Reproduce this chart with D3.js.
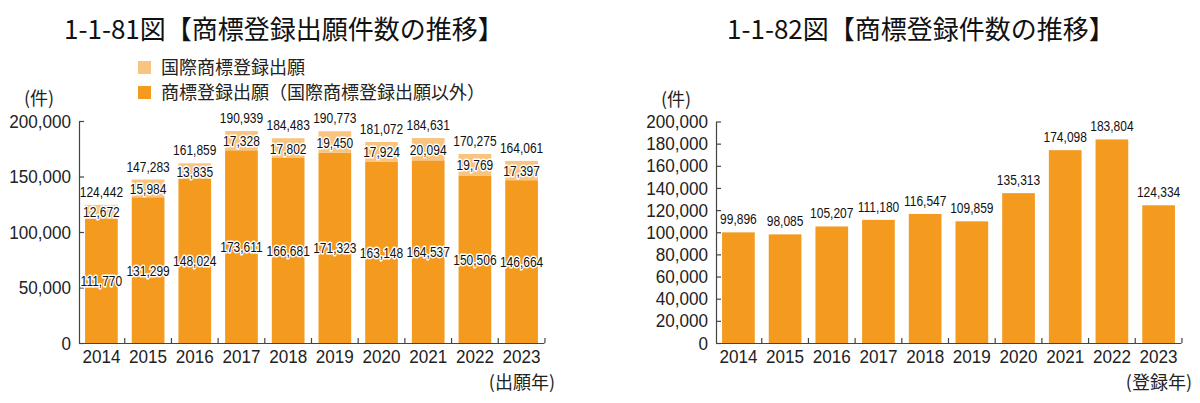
<!DOCTYPE html>
<html>
<head>
<meta charset="utf-8">
<script src="https://cdn.jsdelivr.net/npm/d3@7"></script>
<style>
  body { margin: 0; background: #fff; }
  svg { display: block; }
  .num { font-family: 'Liberation Sans', Arial, sans-serif; }
  .jp { font-family: 'Noto Sans CJK JP', sans-serif; }
</style>
</head>
<body>
<div id="chart"></div>
<script>
const years = ['2014', '2015', '2016', '2017', '2018', '2019', '2020', '2021', '2022', '2023']

// 1-1-81: applications
const domestic = [111770, 131299, 148024, 173611, 166681, 171323, 163148, 164537, 150506, 146664]
const international = [12672, 15984, 13835, 17328, 17802, 19450, 17924, 20094, 19769, 17397]
const applTotal = [124442, 147283, 161859, 190939, 184483, 190773, 181072, 184631, 170275, 164061]

// 1-1-82: registrations
const registrations = [99896, 98085, 105207, 111180, 116547, 109859, 135313, 174098, 183804, 124334]

const leftTicks = [0, 50000, 100000, 150000, 200000]
const rightTicks = d3.range(0, 200001, 20000)

const dark = '#f39a1f'
const light = '#f8c47f'
const fmt = d3.format(',')

const width = 1200
const height = 403

// the source uses a condensed face, squeeze a normal one instead
const axisSqueeze = 0.9
const labelSqueeze = 0.8

const svg = d3.select('#chart')
  .append('svg')
  .attr('width', width)
  .attr('height', height)

function drawAxes(x, y, ticks, yearText) {
  const [x0, x1] = x.range()

  svg.append('g')
    .attr('transform', `translate(${x0},0)`)
    .call(d3.axisLeft(y).tickValues(ticks).tickFormat(fmt).tickSizeInner(-5).tickSizeOuter(0).tickPadding(9))
    .call(g => g.selectAll('path, line').attr('stroke', '#444').attr('stroke-width', 1.2))
    .call(g => g.selectAll('text')
      .attr('class', 'num')
      .attr('font-size', 19)
      .attr('fill', '#222')
      .attr('transform', `scale(${axisSqueeze},1)`))

  svg.append('g')
    .attr('transform', `translate(0,${y(0)})`)
    .call(d3.axisBottom(x).tickSize(0).tickPadding(7))
    .call(g => g.select('.domain').attr('stroke', '#444').attr('stroke-width', 1.2))
    .call(g => g.selectAll('text')
      .attr('class', 'num')
      .attr('font-size', 19)
      .attr('fill', '#222')
      .attr('transform', `scale(${axisSqueeze},1)`))

  // small upward ticks between categories
  const gap = x.step() - x.bandwidth()
  svg.append('g')
    .selectAll('line')
    .data(years)
    .join('line')
    .attr('x1', d => x(d) + x.bandwidth() + gap * x.align())
    .attr('x2', d => x(d) + x.bandwidth() + gap * x.align())
    .attr('y1', y(0))
    .attr('y2', y(0) - 5)
    .attr('stroke', '#444')
    .attr('stroke-width', 1.2)

  svg.append('text')
    .attr('class', 'jp')
    .attr('x', x0 - 40)
    .attr('y', y(200000) - 16)
    .attr('text-anchor', 'middle')
    .attr('font-size', 18)
    .attr('fill', '#222')
    .text('(件)')

  svg.append('text')
    .attr('class', 'jp')
    .attr('x', x1 + 11)
    .attr('y', y(0) + 46)
    .attr('text-anchor', 'end')
    .attr('font-size', 18)
    .attr('fill', '#222')
    .text(yearText)
}

function title(xPos, txt) {
  svg.append('text')
    .attr('class', 'jp')
    .attr('x', xPos)
    .attr('y', 39)
    .attr('font-size', 26)
    .attr('fill', '#111')
    .text(txt)
}

// value label, squeezed around its own anchor point
function valueLabel(sel, px, py, halo) {
  sel.attr('class', 'num')
    .attr('transform', (d, i) => `translate(${px(d, i)},${py(d, i)}) scale(${labelSqueeze},1)`)
    .attr('text-anchor', 'middle')
    .attr('font-size', 15)
    .attr('fill', '#111')
  if (halo) {
    sel.attr('stroke', '#fff')
      .attr('stroke-width', 3)
      .attr('stroke-linejoin', 'round')
      .attr('paint-order', 'stroke')
  }
}

// ---- left chart ----
const xL = d3.scaleBand().domain(years).range([79, 544]).paddingInner(0.3).paddingOuter(0.13)
const yL = d3.scaleLinear().domain([0, 200000]).range([343, 121])

title(64, '1-1-81図【商標登録出願件数の推移】')

const legendItems = [
  { label: '国際商標登録出願', color: light },
  { label: '商標登録出願（国際商標登録出願以外）', color: dark }
]
const legend = svg.append('g')
  .selectAll('g')
  .data(legendItems)
  .join('g')
  .attr('transform', (d, i) => `translate(138,${61 + i * 25})`)
legend.append('rect')
  .attr('width', 13)
  .attr('height', 13)
  .attr('fill', d => d.color)
legend.append('text')
  .attr('class', 'jp')
  .attr('x', 23)
  .attr('y', 13)
  .attr('font-size', 18)
  .attr('fill', '#222')
  .text(d => d.label)

const table = years.map((yr, i) => ({ year: yr, domestic: domestic[i], international: international[i], total: applTotal[i] }))
const stack = d3.stack().keys(['domestic', 'international'])(table)
const stackColor = { domestic: dark, international: light }

drawAxes(xL, yL, leftTicks, '(出願年)')

svg.append('g')
  .selectAll('g')
  .data(stack)
  .join('g')
  .attr('fill', s => stackColor[s.key])
  .selectAll('rect')
  .data(s => s)
  .join('rect')
  .attr('x', d => xL(d.data.year))
  .attr('width', xL.bandwidth())
  .attr('y', d => yL(d[1]))
  .attr('height', d => yL(d[0]) - yL(d[1]))

// segment labels with white halo
svg.append('g')
  .selectAll('g')
  .data(stack)
  .join('g')
  .selectAll('text')
  .data(s => s.map(d => ({ d, key: s.key })))
  .join('text')
  .call(valueLabel,
    o => xL(o.d.data.year) + xL.bandwidth() / 2,
    o => (yL(o.d[0]) + yL(o.d[1])) / 2 + 5.5,
    true)
  .text(o => fmt(o.d.data[o.key]))

svg.append('g')
  .selectAll('text')
  .data(table)
  .join('text')
  .call(valueLabel,
    d => xL(d.year) + xL.bandwidth() / 2,
    d => yL(d.total) - 8,
    false)
  .text(d => fmt(d.total))

// ---- right chart ----
const xR = d3.scaleBand().domain(years).range([716, 1181]).paddingInner(0.3).paddingOuter(0.13)
const yR = d3.scaleLinear().domain([0, 200000]).range([343, 121.5])

title(727, '1-1-82図【商標登録件数の推移】')

drawAxes(xR, yR, rightTicks, '(登録年)')

svg.append('g')
  .selectAll('rect')
  .data(registrations)
  .join('rect')
  .attr('x', (d, i) => xR(years[i]))
  .attr('width', xR.bandwidth())
  .attr('y', d => yR(d))
  .attr('height', d => yR(0) - yR(d))
  .attr('fill', dark)

svg.append('g')
  .selectAll('text')
  .data(registrations)
  .join('text')
  .call(valueLabel,
    (d, i) => xR(years[i]) + xR.bandwidth() / 2,
    d => yR(d) - 8,
    false)
  .text(d => fmt(d))
</script>
</body>
</html>
